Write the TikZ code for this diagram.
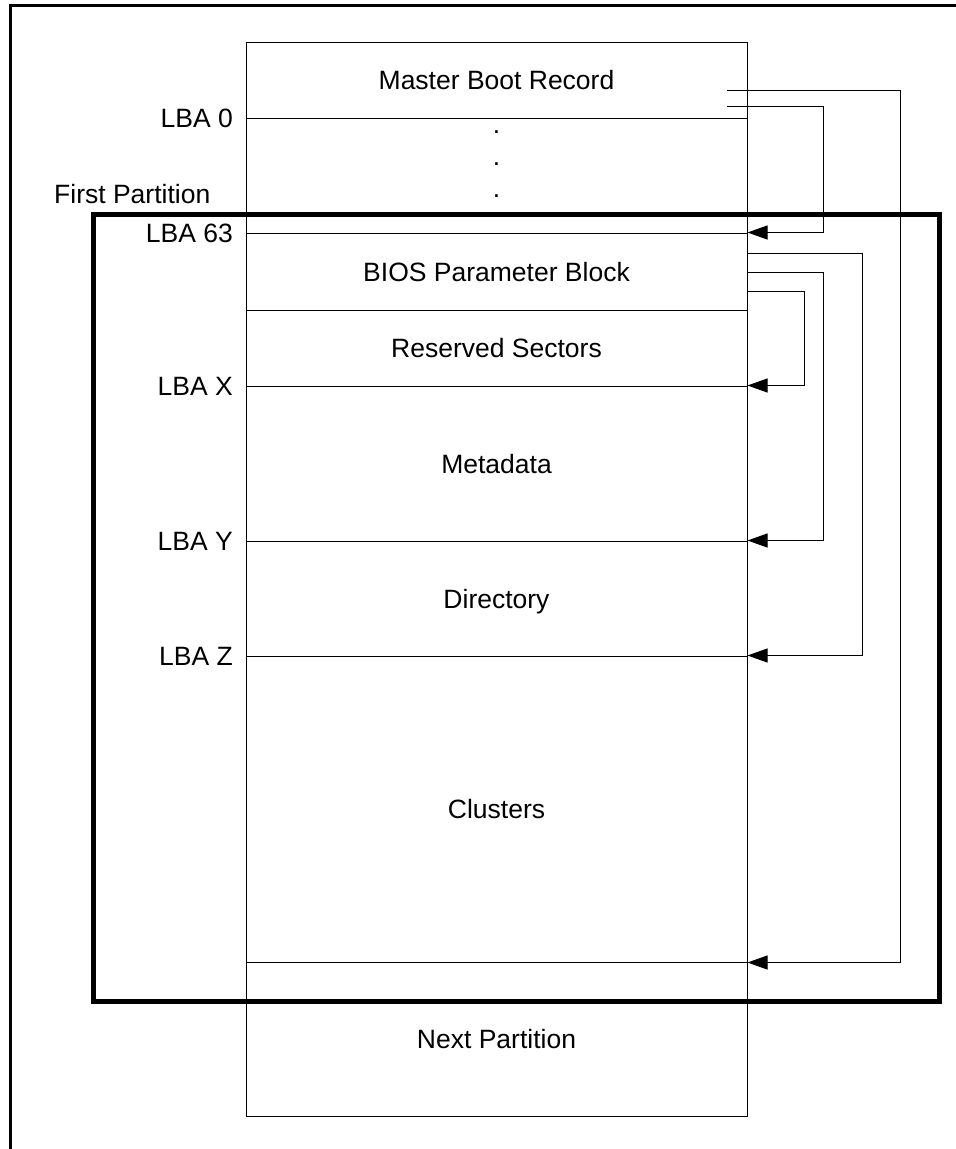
\documentclass[tikz,border=0pt]{standalone}
\usepackage{fontspec}
\setmainfont{Liberation Sans}
\usetikzlibrary{arrows.meta}
\begin{document}
\begin{tikzpicture}[x=1pt,y=-1pt,
  txt/.style={font=\fontsize{26.5}{30}\selectfont, inner sep=0pt},
  sect/.style={txt, draw, line width=1pt, minimum width=501pt, text height=19pt, text depth=0pt},
  lba/.style={txt, anchor=base east},
  conn/.style={line width=1pt, -{Triangle[length=20pt,width=14pt]}},
  part/.style={line width=5pt},
  frame/.style={line width=3.5pt}]
\useasboundingbox (0,0) rectangle (956,1149);
% outer frame (cut off at right and bottom)
\draw[frame] (10.5,1160) -- (10.5,5.5) -- (970,5.5);
% column sections
\node[sect, minimum height=76pt] (mbr) at (496.5,80) {Master Boot Record};
\node[sect, minimum height=115pt] (gap) at (496.5,175.5) {};
\node[sect, minimum height=77pt] (bpb) at (496.5,271.5) {BIOS Parameter Block};
\node[sect, minimum height=76pt] (res) at (496.5,348) {Reserved Sectors};
\node[sect, minimum height=155pt] (meta) at (496.5,463.5) {Metadata};
\node[sect, minimum height=115pt] (dir) at (496.5,598.5) {Directory};
\node[sect, minimum height=306pt] (clu) at (496.5,809) {Clusters};
\node[sect, minimum height=154pt] (next) at (496.5,1039) {Next Partition};
% dots
\node[txt, anchor=base] (d1) at (496.5,133) {.};
\node[txt, anchor=base] (d2) at (496.5,165) {.};
\node[txt, anchor=base] (d3) at (496.5,197) {.};
% first partition frame
\draw[part] (93,214) rectangle (939,1001);
\node[txt, anchor=base west] (fp) at (54,203) {First Partition};
% LBA labels
\node[lba] (l0) at (233,127.5) {LBA 0};
\node[lba] (l63) at (233,242.5) {LBA 63};
\node[lba] (lx) at (233,395.5) {LBA X};
\node[lba] (ly) at (233,550.5) {LBA Y};
\node[lba] (lz) at (233,665.5) {LBA Z};
% connector start points
\coordinate (m1) at (727,90);
\coordinate (m2) at (727,106);
\coordinate (b1) at (747,253);
\coordinate (b2) at (747,272);
\coordinate (b3) at (747,291);
% connectors
\draw[conn] (m1) -- (900,90) |- (clu.south east);
\draw[conn] (m2) -- (823,106) |- (bpb.north east);
\draw[conn] (b1) -- (862,253) |- (clu.north east);
\draw[conn] (b2) -- (823,272) |- (dir.north east);
\draw[conn] (b3) -- (804,291) |- (meta.north east);
\end{tikzpicture}
\end{document}
